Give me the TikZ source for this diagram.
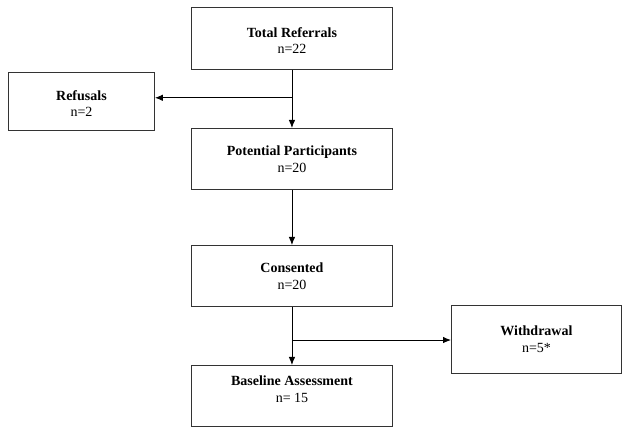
\documentclass[tikz,border=0pt]{standalone}
\usepackage{fontspec}
\setmainfont{Liberation Serif}
\usetikzlibrary{arrows.meta,calc}
\begin{document}
\begin{tikzpicture}[x=1pt,y=-1pt,
  box/.style={draw=black!80,line width=0.9pt,anchor=north west,inner sep=0pt},
  lbl/.style={anchor=north,align=center,inner sep=0pt,font=\fontsize{14}{16.5}\selectfont},
  arr/.style={line width=0.9pt,-{Latex[length=8pt,width=6.5pt]}},
  ln/.style={line width=0.9pt}]
\useasboundingbox (0,0) rectangle (622,427);
\fill[white] (0,0) rectangle (622,427);
% boxes
\node[box,minimum width=201pt,minimum height=62pt] (tr) at (191,7) {};
\node[box,minimum width=146pt,minimum height=58pt] (rf) at (8,72) {};
\node[box,minimum width=201pt,minimum height=61pt] (pp) at (191,128) {};
\node[box,minimum width=201pt,minimum height=61pt] (cs) at (191,245) {};
\node[box,minimum width=170pt,minimum height=68pt] (wd) at (451,305) {};
\node[box,minimum width=201pt,minimum height=61pt] (ba) at (191,365) {};
% labels
\node[lbl] (trl) at ($(tr.north)+(0,20)$) {\textbf{Total Referrals}\\n=22};
\node[lbl] (rfl) at ($(rf.north)+(0,18)$) {\textbf{Refusals}\\n=2};
\node[lbl] (ppl) at ($(pp.north)+(0,18)$) {\textbf{Potential Participants}\\n=20};
\node[lbl] (csl) at ($(cs.north)+(0,18)$) {\textbf{Consented}\\n=20};
\node[lbl] (wdl) at ($(wd.north)+(0,21)$) {\textbf{Withdrawal}\\n=5*};
\node[lbl] (bal) at ($(ba.north)+(0,11)$) {\textbf{Baseline Assessment}\\n= 15};
% connectors
\coordinate (j1) at ($(tr.south)!0.48!(pp.north)$);
\coordinate (j2) at ($(cs.south)!0.57!(ba.north)$);
\draw[arr] (tr.south) -- (pp.north);
\draw[arr] (j1) -- (j1 -| rf.east);
\draw[arr] (pp.south) -- (cs.north);
\draw[arr] (cs.south) -- (ba.north);
\draw[arr] (j2) -- (j2 -| wd.west);
\end{tikzpicture}
\end{document}
